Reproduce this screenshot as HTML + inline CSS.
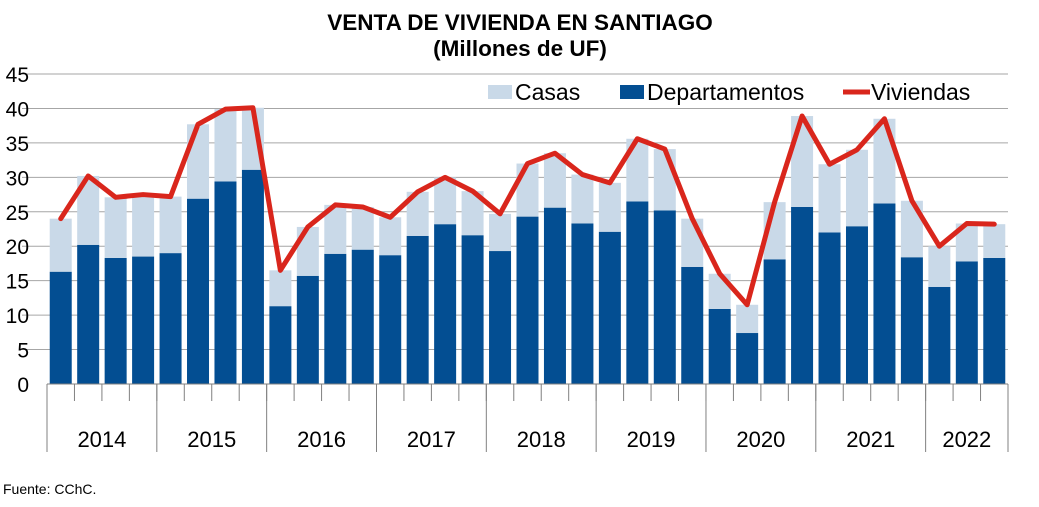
<!DOCTYPE html>
<html><head><meta charset="utf-8"><style>
body{margin:0;background:#fff;width:1039px;height:502px;overflow:hidden;font-family:"Liberation Sans",Arial,sans-serif}
</style></head><body>
<svg id="c" width="1039" height="502" xmlns="http://www.w3.org/2000/svg">
<text x="520" y="30" text-anchor="middle" font-size="22.5" font-weight="bold">VENTA DE VIVIENDA EN SANTIAGO</text>
<text x="520" y="56" text-anchor="middle" font-size="22.5" font-weight="bold">(Millones de UF)</text>
<g id="grid"></g><g id="bars"></g><g id="line"></g><g id="axis"></g>
<g>
<rect x="488" y="85" width="24" height="14" fill="#c9d9e8"/>
<text x="515" y="100" font-size="23">Casas</text>
<rect x="620" y="85" width="24" height="14" fill="#034e92"/>
<text x="647" y="100" font-size="23">Departamentos</text>
<line x1="843" y1="92" x2="870" y2="92" stroke="#d9261c" stroke-width="5"/>
<text x="871" y="100" font-size="23">Viviendas</text>
</g>
<text x="3" y="494" font-size="14">Fuente:  CChC.</text>
</svg>
<script>
const years=["2014","2015","2016","2017","2018","2019","2020","2021","2022"];
const yearQuarters=[4,4,4,4,4,4,4,4,3];
const deps=[16.3,20.2,18.3,18.5,19,26.9,29.4,31.1,11.3,15.7,18.9,19.5,18.7,21.5,23.2,21.6,19.3,24.3,25.6,23.3,22.1,26.5,25.2,17,10.9,7.4,18.1,25.7,22,22.9,26.2,18.4,14.1,17.8,18.3];
const casas=[7.7,10,8.8,9,8.2,10.8,10.5,9,5.2,7.1,7.1,6.2,5.5,6.4,6.8,6.4,5.4,7.7,7.9,7.1,7.1,9.1,8.9,7,5.1,4.1,8.3,13.2,9.9,11.1,12.3,8.2,5.9,5.5,4.9];
const viviendas=[24,30.2,27.1,27.5,27.2,37.7,39.9,40.1,16.5,22.8,26,25.7,24.2,27.9,30,28,24.7,32,33.5,30.4,29.2,35.6,34.1,24,16,11.5,26.4,38.9,31.9,34,38.5,26.6,20,23.3,23.2];
const yTicks=[0,5,10,15,20,25,30,35,40,45];
const NS="http://www.w3.org/2000/svg";
const X0=47,X1=1008,Y0=384,Y1=74,YMAX=45;
const n=deps.length,pitch=(X1-X0)/n,bw=22;
const y=v=>Y0-(v/YMAX)*(Y0-Y1);
const xc=i=>X0+pitch*(i+0.5);
function mk(t,a,p){const e=document.createElementNS(NS,t);for(const k in a)e.setAttribute(k,a[k]);p.appendChild(e);return e;}
const grid=document.getElementById('grid'),bars=document.getElementById('bars'),lg=document.getElementById('line'),ax=document.getElementById('axis');
yTicks.forEach(t=>{
 if(t>0){const l=mk('line',{x1:X0-25,x2:X1,y1:y(t),y2:y(t),stroke:'#a6a6a6','stroke-width':1},grid);
 
 }
 const tx=mk('text',{x:29,y:y(t)+8,'text-anchor':'end','font-size':21},ax);tx.textContent=t;
 
 
});
deps.forEach((d,i)=>{
 const r1=mk('rect',{x:xc(i)-bw/2,y:y(d),width:bw,height:Y0-y(d),fill:'#034e92'},bars);
 
 
 const r2=mk('rect',{x:xc(i)-bw/2,y:y(d+casas[i]),width:bw,height:y(d)-y(d+casas[i]),fill:'#c9d9e8'},bars);
 
 
});
const pl=mk('polyline',{points:viviendas.map((v,i)=>xc(i)+','+y(v)).join(' '),fill:'none',stroke:'#d9261c','stroke-width':5,'stroke-linejoin':'round','stroke-linecap':'round'},lg);


const base=mk('line',{x1:X0,x2:X1,y1:Y0,y2:Y0,stroke:'#808080','stroke-width':1},ax);


for(let i=0;i<=n;i++){const t=mk('line',{x1:X0+pitch*i,x2:X0+pitch*i,y1:Y0,y2:Y0+17,stroke:'#808080','stroke-width':1},ax);
 
 }
let s=0;
years.forEach((yr,k)=>{
 const a=X0+pitch*s,b=X0+pitch*(s+yearQuarters[k]);
 const sep=mk('line',{x1:a,x2:a,y1:Y0,y2:452,stroke:'#808080','stroke-width':1},ax);
 
 
 const tx=mk('text',{x:(a+b)/2,y:447,'text-anchor':'middle','font-size':22},ax);tx.textContent=yr;
 
 
 s+=yearQuarters[k];
});
const last=mk('line',{x1:X1,x2:X1,y1:Y0,y2:452,stroke:'#808080','stroke-width':1},ax);


</script>
</body></html>
